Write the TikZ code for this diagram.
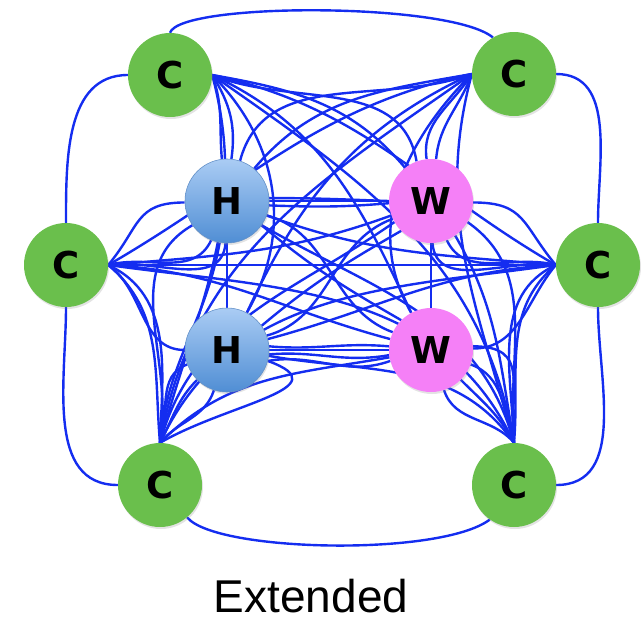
\documentclass[tikz,border=0pt]{standalone}
\usepackage{fontspec}
\setmainfont{Liberation Sans}
\newfontfamily\nodefont{DejaVu Sans}
\usetikzlibrary{shadows}
\definecolor{cgreen}{RGB}{106,191,76}
\definecolor{hblueT}{RGB}{170,204,244}
\definecolor{hblueB}{RGB}{80,142,212}
\definecolor{hborder}{RGB}{100,145,200}
\definecolor{wpink}{RGB}{245,128,247}
\definecolor{linkblue}{RGB}{20,45,240}
\pgfdeclarelayer{links}
\pgfsetlayers{links,main}
\tikzset{
  atom/.style={circle, minimum size=84pt, inner sep=0pt,
    font=\nodefont\bfseries\fontsize{37}{40}\selectfont,
    drop shadow={opacity=0.22, shadow xshift=1pt, shadow yshift=-2pt}},
  catom/.style={atom, fill=cgreen},
  hatom/.style={atom, top color=hblueT, bottom color=hblueB, draw=hborder, line width=0.6pt},
  watom/.style={atom, fill=wpink},
  link/.style={draw=linkblue, line width=2.4pt},
}
\begin{document}
\begin{tikzpicture}[x=1pt,y=1pt]
\useasboundingbox (0,0) rectangle (641,-625);

% atoms
\node[catom] (c1) at (170,-75)  {C};
\node[catom] (c2) at (514,-74)  {C};
\node[hatom] (h1) at (227,-201) {H};
\node[watom] (w1) at (431,-201) {W};
\node[catom] (c3) at (66,-265)  {C};
\node[catom] (c4) at (598,-265) {C};
\node[hatom] (h2) at (227,-350) {H};
\node[watom] (w2) at (431,-350) {W};
\node[catom] (c5) at (160,-485) {C};
\node[catom] (c6) at (514,-485) {C};

\node[font=\fontsize{46}{50}\selectfont, anchor=base, inner sep=0pt] (lbl) at (311,-612) {Extended};

\begin{pgfonlayer}{links}
\begin{scope}[link]
% outer ring
\draw (c1.north) .. controls (180,-2) and (450,-2) .. (c2.120);
\draw (c1.west) to[out=180,in=90] (c3.north);
\draw (c2.east) to[out=0,in=90] (c4.north);
\draw (c3.south) to[out=-90,in=180] (c5.west);
\draw (c4.south) to[out=-90,in=0] (c6.east);
\draw (c5.-50) .. controls (215,-552) and (440,-557) .. (c6.-125);

% H and W bonds
\draw (h1.south) -- (h2.north);
\draw (w1.south) -- (w2.north);
\draw (h1.east) -- (w1.west);
\draw (h1.4) to[out=0,in=178] (w1.180);
\draw (h1.-6) to[out=-2,in=185] (w1.183);
\draw (h2.east) -- (w2.west);
\draw (h2.5) to[out=-5,in=175] (w2.175);
\draw (h2.-6) to[out=5,in=190] (w2.187);
\draw (h2.-15) to[out=10,in=-160] (w2.-165);
\draw (h1.-20) to[out=-15,in=160] (w2.155);
\draw (h2.20) to[out=15,in=-160] (w1.-155);
\draw (h1.-35) to[out=-40,in=150] (w2.135);
\draw (h2.35) to[out=40,in=-150] (w1.-135);

% top-left C
\draw (c1.east) to[out=-70,in=95] (h1.97);
\draw (c1.east) to[out=-58,in=82] (h1.84);
\draw (c1.east) to[out=-10,in=130] (w1.128);
\draw (c1.east) to[out=-22,in=100] (w1.110);
\draw (c1.east) to[out=-45,in=60] (h2.62);
\draw (c1.east) to[out=-25,in=115] (w2.118);
\draw (c1.east) to[out=-12,in=150] (c4.west);
\draw (c1.east) to[out=-35,in=100] (c6.north);
\draw (c1.east) to[out=-75,in=75] (c5.north);

% top-right C
\draw (c2.west) to[out=-110,in=85] (w1.83);
\draw (c2.west) to[out=-122,in=98] (w1.96);
\draw (c2.west) to[out=190,in=50] (h1.50);
\draw (c2.west) to[out=200,in=75] (h1.72);
\draw (c2.west) to[out=-135,in=120] (w2.118);
\draw (c2.west) to[out=205,in=65] (h2.62);
\draw (c2.west) to[out=192,in=30] (c3.east);
\draw (c2.west) to[out=215,in=80] (c5.north);
\draw (c2.west) to[out=-105,in=105] (c6.north);

% left C
\draw (c3.east) to[out=50,in=180,looseness=1.3] (h1.182);
\draw (c3.east) to[out=15,in=-115] (h1.-112);
\draw (c3.east) to[out=8,in=-95] (h1.-92);
\draw (c3.east) to[out=5,in=200] (w1.200);
\draw (c3.east) -- (c4.west);
\draw (c3.east) to[out=-3,in=165] (w2.165);
\draw (c3.east) to[out=-35,in=180] (h2.180);
\draw (c3.east) to[out=-8,in=115] (c6.north);
\draw (c3.east) to[out=-40,in=95] (c5.north);
\draw (c3.east) to[out=-25,in=88] (c5.north);

% right C
\draw (c4.west) to[out=130,in=0,looseness=1.3] (w1.-2);
\draw (c4.west) to[out=165,in=-65] (w1.-68);
\draw (c4.west) to[out=172,in=-85] (w1.-88);
\draw (c4.west) to[out=175,in=-20] (h1.-20);
\draw (c4.west) to[out=183,in=15] (h2.15);
\draw (c4.west) to[out=-130,in=0] (w2.2);
\draw (c4.west) to[out=188,in=65] (c5.north);
\draw (c4.west) to[out=-140,in=85] (c6.north);
\draw (c4.west) to[out=-155,in=92] (c6.north);

% bottom-left C
\draw (c5.north) to[out=72,in=-160] (h2.-160);
\draw (c5.north) to[out=62,in=-135] (h2.-135);
\draw (c5.north) to[out=50,in=-108] (h2.-108);
\draw (c5.north) to[out=30,in=-20,looseness=1.5] (h2.-15);
\draw (c5.north) to[out=85,in=-100] (h1.-100);
\draw (c5.north) to[out=80,in=-150] (h1.-145);
\draw (c5.north) to[out=75,in=-145] (w1.-150);
\draw (c5.north) to[out=45,in=190] (w2.-170);

% bottom-right C
\draw (c6.north) to[out=108,in=-20] (w2.-20);
\draw (c6.north) to[out=118,in=-45] (w2.-45);
\draw (c6.north) to[out=130,in=-72] (w2.-72);
\draw (c6.north) to[out=95,in=0,looseness=1.4] (w2.5);
\draw (c6.north) to[out=100,in=-60] (w1.-55);
\draw (c6.north) to[out=95,in=-35] (w1.-30);
\draw (c6.north) to[out=105,in=-30] (h1.-35);
\draw (c6.north) to[out=125,in=-10] (h2.-8);
\end{scope}
\end{pgfonlayer}
\end{tikzpicture}
\end{document}
